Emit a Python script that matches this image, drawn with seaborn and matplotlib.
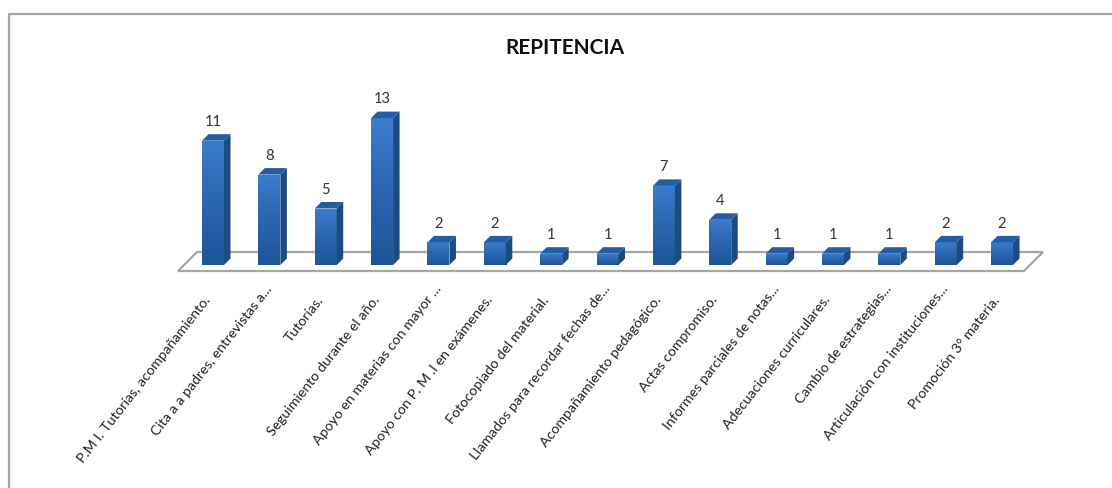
import numpy as np
import pandas as pd
import seaborn as sns
from matplotlib import pyplot as plt
from matplotlib.colors import LinearSegmentedColormap
from matplotlib.patches import Polygon
from matplotlib.transforms import ScaledTranslation

categories = ['P.M I. Tutorías, acompañamiento.', 'Cita a a padres, entrevistas a...', 'Tutorías.',
              'Seguimiento durante el año.', 'Apoyo en materias con mayor ...', 'Apoyo con P. M .I en exámenes.',
              'Fotocopiado del material.', 'Llamados para recordar fechas de...', 'Acompañamiento pedagógico.',
              'Actas compromiso.', 'Informes parciales de notas...', 'Adecuaciones curriculares.',
              'Cambio de estrategias...', 'Articulación con instituciones...', 'Promoción 3° materia.']
values = [11, 8, 5, 13, 2, 2, 1, 1, 7, 4, 1, 1, 1, 2, 2]

W, H = 1112, 488
sns.set_theme(style='white')
plt.rcParams['font.family'] = ['Lato', 'DejaVu Sans']

# pixel layout
x0, dx_px = 213, 56.36
y0, dy_px = 265, 11.3
left, right, top, bottom = 178, 1043, 100, 271

fig = plt.figure(figsize=(W / 100, H / 100), dpi=100)
ax = fig.add_axes([left / W, 1 - bottom / H, (right - left) / W, (bottom - top) / H])
df = pd.DataFrame({'cat': categories, 'val': values})
sns.barplot(data=df, x='cat', y='val', ax=ax, color='#2f6cb8', width=22 / dx_px, saturation=1, zorder=3)
xlim = ((left - x0) / dx_px, (right - x0) / dx_px)
ylim = ((y0 - bottom) / dy_px, (y0 - top) / dy_px)

depth_x, depth_y = 6.5 / dx_px, 6.5 / dy_px
grad = LinearSegmentedColormap.from_list('g', ['#3c7ccb', '#2a66b0', '#1f5598'])
bars = list(ax.patches)
for bar in bars:
    x, w, h = bar.get_x(), bar.get_width(), bar.get_height()
    ax.add_patch(Polygon([(x + w, 0), (x + w + depth_x, depth_y), (x + w + depth_x, h + depth_y), (x + w, h)],
                         fc='#1d4a80', ec='none', zorder=4))
    ax.add_patch(Polygon([(x, h), (x + depth_x, h + depth_y), (x + w + depth_x, h + depth_y), (x + w, h)],
                         fc='#235da3', ec='none', zorder=4))
    im = ax.imshow(np.linspace(0, 1, 64).reshape(-1, 1), extent=(x, x + w, 0, h), cmap=grad, aspect='auto',
                   origin='upper', zorder=3.5)
    im.set_clip_path(bar)

# floor of the 3d chart
ax.add_patch(Polygon([(xlim[0], ylim[0]), ((1024 - x0) / dx_px, ylim[0]), (xlim[1], (y0 - 252) / dy_px),
                      ((197 - x0) / dx_px, (y0 - 252) / dy_px)], closed=True, fc='white', ec='#a6a6a6', lw=1.6,
                     zorder=1, clip_on=False))

for bar, v in zip(bars, values):
    ax.annotate(str(v), (bar.get_x() + bar.get_width() / 2, v), xytext=(0, 8.5), textcoords='offset points',
                ha='center', va='bottom', fontsize=10.5, color='#333333')

ax.set_xlim(xlim)
ax.set_ylim(ylim)
ax.set_xlabel('')
ax.set_ylabel('')
ax.set_yticks([])
ax.set_xticks(range(len(categories)))
ax.set_xticklabels(categories, rotation=52, ha='right', va='center', rotation_mode='anchor', fontsize=10.2,
                   color='#222222')
ax.tick_params(axis='x', length=0, pad=17)
# truncated labels sit a little higher than the others
for lab in ax.get_xticklabels():
    if lab.get_text().endswith('...'):
        shift = ScaledTranslation(0, 8 / 100, fig.dpi_scale_trans)
    else:
        shift = ScaledTranslation(-5 / 100, -3 / 100, fig.dpi_scale_trans)
    lab.set_transform(lab.get_transform() + shift)
sns.despine(ax=ax, left=True, bottom=True)
ax.patch.set_alpha(0)

fig.text(565 / W, 1 - 48 / H, 'REPITENCIA', ha='center', va='center', fontsize=15, fontweight='bold',
         color='#111111')

# outer frame, open at the bottom and on the right
fig.add_artist(plt.Line2D([9 / W, 9 / W, 1 + 1 / W], [0, 1 - 14 / H, 1 - 14 / H], color='#a6a6a6', lw=1.6))

fig.savefig('out.png', dpi=100)
